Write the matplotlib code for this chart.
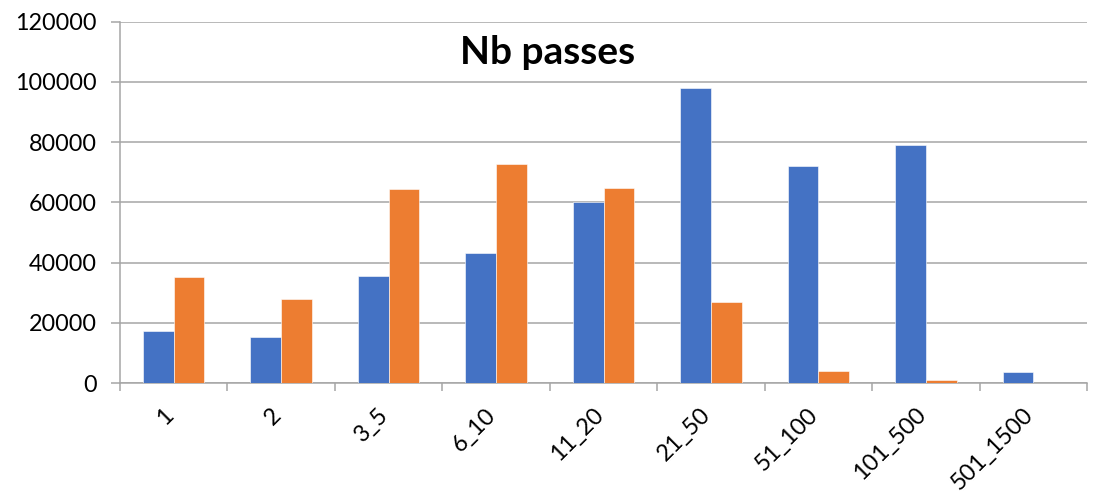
import matplotlib
matplotlib.use('Agg')

import numpy as np
import matplotlib.pyplot as plt
from matplotlib.transforms import ScaledTranslation

# tranches de nombre de passes
categories = ['1', '2', '3_5', '6_10', '11_20', '21_50', '51_100', '101_500', '501_1500']
serie_bleue = [17500, 15300, 35700, 43100, 60000, 97800, 72000, 79100, 3800]
serie_orange = [35200, 28000, 64500, 72800, 64900, 27000, 4000, 1100, 0]

bleu = '#4472C4'
orange = '#ED7D31'
gris = '#A6A6A6'

plt.rcParams['font.family'] = ['Lato', 'DejaVu Sans']

fig = plt.figure(figsize=(10.95, 4.92), dpi=100)
ax = fig.add_axes([0.1096, 0.221, 0.8831, 0.7353])

x = np.arange(len(categories))
w = 0.2857
ax.bar(x - w / 2, serie_bleue, w, color=bleu, edgecolor='white', linewidth=0.4, zorder=3)
ax.bar(x + w / 2, serie_orange, w, color=orange, edgecolor='white', linewidth=0.4, zorder=3)

ax.set_xlim(-0.5, len(categories) - 0.5)
ax.set_ylim(0, 120000)
ax.set_yticks(np.arange(0, 120001, 20000))
ax.yaxis.grid(True, color=gris, linewidth=1.1, zorder=0)
ax.set_axisbelow(True)

# graduations x aux limites des catégories, étiquettes au centre
ax.set_xticks(np.arange(-0.5, len(categories)), minor=False)
ax.set_xticklabels([])
ax.set_xticks(x, minor=True)
ax.set_xticklabels(categories, minor=True, rotation=45, ha='right', va='top', fontsize=16.8)
ax.tick_params(axis='x', which='major', length=6, color=gris, width=1.1)
ax.tick_params(axis='x', which='minor', length=0, pad=15)
decalage = ScaledTranslation(4 / 100, 0, fig.dpi_scale_trans)
for lab in ax.get_xticklabels(minor=True):
    lab.set_transform(lab.get_transform() + decalage)

ax.tick_params(axis='y', length=6.5, color=gris, width=1.1, labelsize=16.8, pad=10)

for s in ['top', 'right']:
    ax.spines[s].set_visible(False)
for s in ['left', 'bottom']:
    ax.spines[s].set_color(gris)
    ax.spines[s].set_linewidth(1.1)

fig.text(0.5005, 0.894, 'Nb passes', ha='center', va='center', fontsize=28, fontweight='bold')

plt.savefig('out.png', dpi=100)
